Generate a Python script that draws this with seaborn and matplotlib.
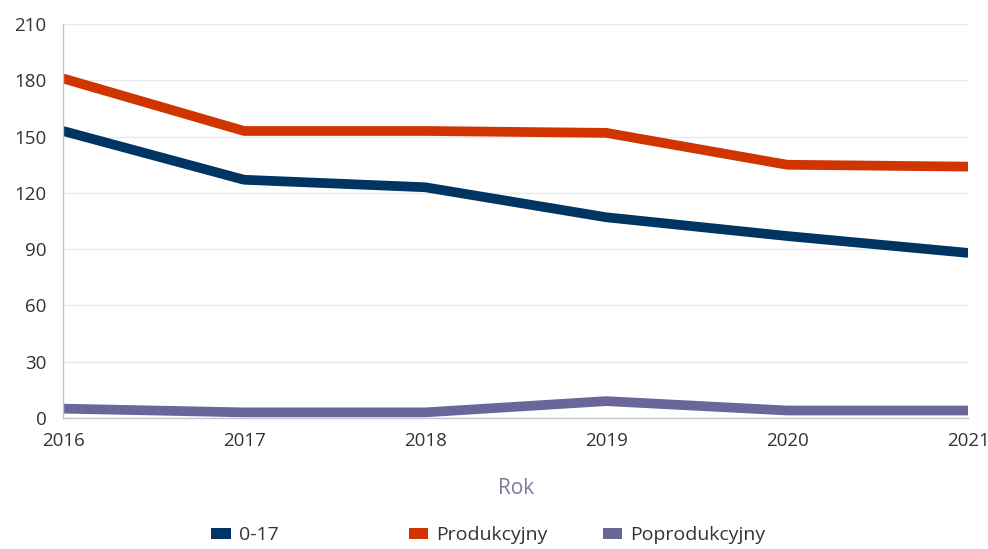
import numpy as np
import pandas as pd
import matplotlib
matplotlib.use('Agg')
import matplotlib.pyplot as plt
import seaborn as sns
from matplotlib.patches import Patch

# Data
years = [2016, 2017, 2018, 2019, 2020, 2021]
series_names = ['0-17', 'Produkcyjny', 'Poprodukcyjny']
vals_0_17 = [153, 127, 123, 107, 97, 88]
vals_prod = [181, 153, 153, 152, 135, 134]
vals_poprod = [5, 3, 3, 9, 4, 4]
y_ticks = [0, 30, 60, 90, 120, 150, 180, 210]

colors = ['#003462', '#d03500', '#69669a']

df = pd.DataFrame({
    'Rok': years * 3,
    'value': vals_0_17 + vals_prod + vals_poprod,
    'series': [s for s in series_names for _ in years],
})

sns.set_style('white')
plt.rcParams['font.family'] = ['Open Sans', 'DejaVu Sans']

fig = plt.figure(figsize=(9.88, 5.49), dpi=100)
ax = fig.add_axes([0.0638, 0.2386, 0.9162, 0.7176])

sns.lineplot(data=df, x='Rok', y='value', hue='series', palette=colors,
             hue_order=series_names, linewidth=7, ax=ax, legend=False,
             solid_joinstyle='round', solid_capstyle='butt')

ax.set_xlim(2016, 2021)
ax.set_ylim(0, 210)
ax.set_yticks(y_ticks)
ax.set_xticks(years)
ax.grid(axis='y', color='#e8e8ee', linewidth=1)
ax.set_axisbelow(True)

for side in ['top', 'right']:
    ax.spines[side].set_visible(False)
for side in ['left', 'bottom']:
    ax.spines[side].set_color('#c4c4d4')
    ax.spines[side].set_linewidth(1)

ax.tick_params(axis='both', length=0, labelsize=13.5, colors='#333333')
ax.tick_params(axis='y', pad=12)
ax.tick_params(axis='x', pad=10)
ax.set_ylabel('')
ax.set_xlabel('Rok', fontsize=15, color='#7b7a9e', labelpad=20)

# Excel-style legend: fixed-width slots, one small legend per entry
legend_x = [0.214, 0.414, 0.610]
for name, c, lx in zip(series_names, colors, legend_x):
    leg = fig.legend([Patch(facecolor=c, edgecolor='none')], [name],
                     loc='center left', bbox_to_anchor=(lx, 0.025),
                     frameon=False, fontsize=14, handlelength=1.0,
                     handleheight=0.55, handletextpad=0.4,
                     labelcolor='#333333', borderpad=0, borderaxespad=0)

fig.savefig('out.png', dpi=100)
